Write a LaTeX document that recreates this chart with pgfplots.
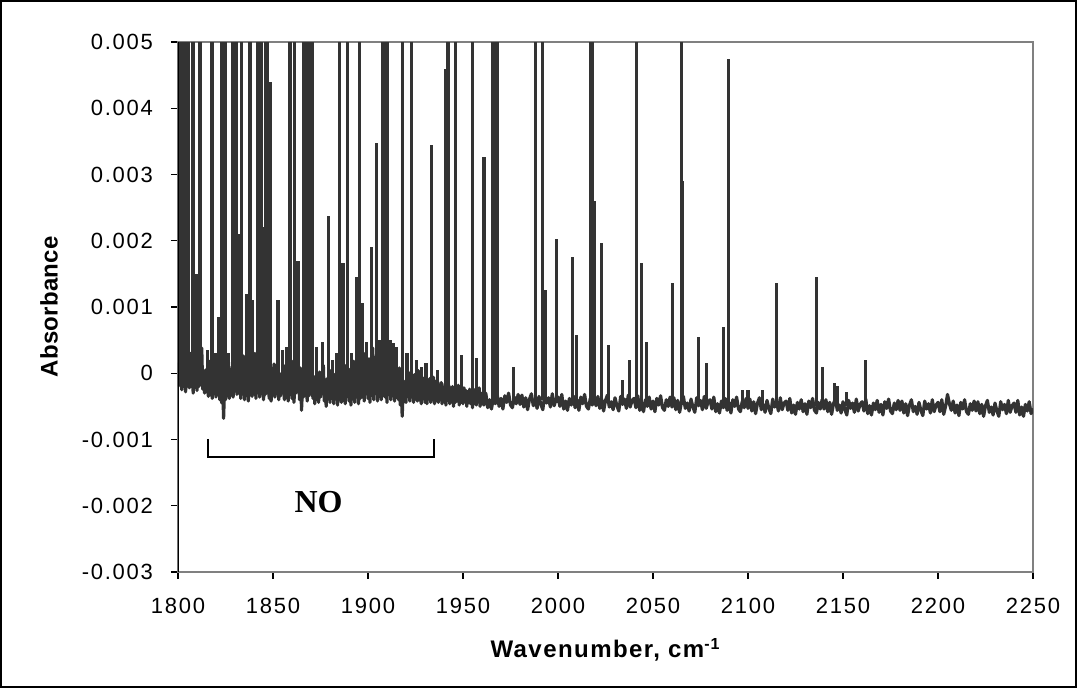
\documentclass[border=0pt]{standalone}
\usepackage{fontspec}
\setmainfont{Liberation Sans}
\newfontfamily\tickfont{Liberation Sans}[LetterSpace=8]
\newfontfamily\labfont{Liberation Sans}[LetterSpace=6]
\newfontfamily\ylabfont{Liberation Sans}[LetterSpace=1]
\newfontfamily\nofont{Liberation Serif}
\usepackage{pgfplots}
\pgfplotsset{compat=1.18}
\definecolor{spec}{HTML}{333333}
\definecolor{framegray}{HTML}{808080}
\begin{document}
\begin{tikzpicture}
\begin{axis}[
  at={(89pt,58pt)}, anchor=south west,
  scale only axis, width=427.5pt, height=265pt,
  xmin=1800, xmax=2250, ymin=-0.003, ymax=0.005,
  xtick={1800,1850,1900,1950,2000,2050,2100,2150,2200,2250},
  xticklabels={1800,1850,1900,1950,2000,2050,2100,2150,2200,2250},
  ytick={-0.003,-0.002,-0.001,0,0.001,0.002,0.003,0.004,0.005},
  yticklabels={-0.003,-0.002,-0.001,0,0.001,0.002,0.003,0.004,0.005},
  scaled y ticks=false, scaled x ticks=false,
  xtick pos=bottom, ytick pos=left, tick align=outside,
  major tick length=3.5pt,
  tick style={black, line width=0.6pt},
  axis line style={draw=framegray, line width=1.3pt},
  ticklabel style={font=\fontsize{11}{13}\tickfont},
  xticklabel style={yshift=-6pt},
  yticklabel style={xshift=-5.5pt},
  xlabel={\bfseries Wavenumber, cm\textsuperscript{-1}},
  ylabel={\bfseries Absorbance},
  xlabel style={font=\fontsize{12}{14}\labfont, at={(axis description cs:0.5,0)}, anchor=center, yshift=-39pt},
  ylabel style={font=\fontsize{12}{14}\ylabfont, at={(axis description cs:0,0.5)}, anchor=center, yshift=64.5pt},
  unbounded coords=jump,
  clip=true,
]
% noisy baseline
\addplot[spec, line width=1.6pt, line join=round] coordinates {
(1800,-0.0002)(1800.5,0.00015)(1801,-0.00012)(1801.5,-0.00008)(1802,-0.00025)(1802.5,0.00028)(1803,-0.00015)(1803.5,-0.00005)(1804,-0.00028)(1804.5,0.0001)
(1805,-0.0001)(1805.5,-0.00012)(1806,-0.00022)(1806.5,0.0003)(1807,-0.00018)(1807.5,-0.00004)(1808,-0.0003)(1808.5,0.00008)(1809,-0.00014)(1809.5,-0.0001)
(1810,-0.00026)(1810.5,0.00022)(1811,-0.0002)(1811.5,-0.00006)(1812,-0.00012)(1812.5,0.00038)(1813,-0.00024)(1813.5,-0.0001)(1814,-0.0003)(1814.5,0.00005)
(1815,-0.00028)(1815.5,-0.00015)(1816,-0.00035)(1816.5,0.00018)(1817,-0.00026)(1817.5,-0.00012)(1818,-0.00038)(1818.5,0.00002)(1819,-0.0003)(1819.5,-0.00018)
(1820,-0.00036)(1820.5,0.00022)(1821,-0.00028)(1821.5,-0.00014)(1822,-0.0004)(1822.5,0.00006)(1823,-0.00045)(1823.5,-0.0002)(1824,-0.00068)(1824.5,-0.00022)
(1825,-0.0004)(1825.5,-0.00016)(1826,-0.00032)(1826.5,0.0002)(1827,-0.00038)(1827.5,-0.00012)(1828,-0.0003)(1828.5,0.0001)(1829,-0.00036)(1829.5,-0.00014)
(1830,-0.00025)(1830.5,0.00024)(1831,-0.00032)(1831.5,-0.0001)(1832,-0.00022)(1832.5,0.00008)(1833,-0.00038)(1833.5,-0.00018)(1834,-0.00028)(1834.5,0.00026)
(1835,-0.0004)(1835.5,-0.00014)(1836,-0.0003)(1836.5,0.00004)(1837,-0.00042)(1837.5,-0.0002)(1838,-0.00026)(1838.5,0.00016)(1839,-0.00035)(1839.5,-0.00008)
(1840,-0.0003)(1840.5,0.0003)(1841,-0.00038)(1841.5,-0.00015)(1842,-0.00025)(1842.5,0.00012)(1843,-0.00036)(1843.5,-0.00012)(1844,-0.00028)(1844.5,0.00002)
(1845,-0.0004)(1845.5,-0.00018)(1846,-0.00032)(1846.5,0.0002)(1847,-0.00024)(1847.5,-0.0001)(1848,-0.00038)(1848.5,0.00006)(1849,-0.00042)(1849.5,-0.0002)
(1850,-0.0003)(1850.5,0.00014)(1851,-0.00036)(1851.5,-0.00016)(1852,-0.00026)(1852.5,0.00022)(1853,-0.0004)(1853.5,-0.00018)(1854,-0.00034)(1854.5,0)
(1855,-0.00028)(1855.5,-0.00014)(1856,-0.0004)(1856.5,0.00012)(1857,-0.00032)(1857.5,-0.00012)(1858,-0.00042)(1858.5,-0.00002)(1859,-0.0003)(1859.5,-0.00016)
(1860,-0.00038)(1860.5,0.00018)(1861,-0.00044)(1861.5,-0.00022)(1862,-0.0003)(1862.5,0.00006)(1863,-0.00026)(1863.5,-0.0001)(1864,-0.0004)(1864.5,0.00008)
(1865,-0.00056)(1865.5,-0.00024)(1866,-0.00036)(1866.5,0.00004)(1867,-0.0003)(1867.5,-0.00014)(1868,-0.00042)(1868.5,0.00014)(1869,-0.00034)(1869.5,-0.00018)
(1870,-0.00028)(1870.5,0.0001)(1871,-0.00038)(1871.5,-0.0002)(1872,-0.00046)(1872.5,-0.00004)(1873,-0.00034)(1873.5,-0.00022)(1874,-0.00044)(1874.5,0.00002)
(1875,-0.00036)(1875.5,-0.00018)(1876,-0.0003)(1876.5,0.00012)(1877,-0.00042)(1877.5,-0.00024)(1878,-0.0005)(1878.5,-0.00008)(1879,-0.00038)(1879.5,-0.0002)
(1880,-0.00044)(1880.5,0.00004)(1881,-0.00034)(1881.5,-0.00018)(1882,-0.00046)(1882.5,-0.00002)(1883,-0.00038)(1883.5,-0.00022)(1884,-0.00048)(1884.5,0.00008)
(1885,-0.00036)(1885.5,-0.00016)(1886,-0.00044)(1886.5,-0.00004)(1887,-0.00034)(1887.5,-0.0002)(1888,-0.00046)(1888.5,0.00012)(1889,-0.0003)(1889.5,-0.00014)
(1890,-0.00042)(1890.5,0.00006)(1891,-0.00048)(1891.5,-0.00022)(1892,-0.00036)(1892.5,0.00018)(1893,-0.00044)(1893.5,-0.00016)(1894,-0.00032)(1894.5,0.0001)
(1895,-0.00046)(1895.5,-0.0002)(1896,-0.00038)(1896.5,0.0002)(1897,-0.0003)(1897.5,-0.0001)(1898,-0.00042)(1898.5,0.0003)(1899,-0.00028)(1899.5,-0.00008)
(1900,-0.00038)(1900.5,0.00022)(1901,-0.00044)(1901.5,-0.00012)(1902,-0.00032)(1902.5,0.00038)(1903,-0.0004)(1903.5,-0.00006)(1904,-0.0003)(1904.5,0.00028)
(1905,-0.00042)(1905.5,-0.00014)(1906,-0.00034)(1906.5,0.00045)(1907,-0.0004)(1907.5,-0.00004)(1908,-0.0003)(1908.5,0.00035)(1909,-0.00036)(1909.5,-0.00012)
(1910,-0.00044)(1910.5,0.00026)(1911,-0.00032)(1911.5,-0.00002)(1912,-0.0004)(1912.5,0.00042)(1913,-0.00034)(1913.5,-0.0001)(1914,-0.00042)(1914.5,0.0002)
(1915,-0.0003)(1915.5,-0.00014)(1916,-0.0004)(1916.5,0.00008)(1917,-0.00048)(1917.5,-0.00024)(1918,-0.00065)(1918.5,-0.00026)(1919,-0.00038)(1919.5,-0.00012)
(1920,-0.00044)(1920.5,0.0001)(1921,-0.00034)(1921.5,-0.0002)(1922,-0.00042)(1922.5,0.00002)(1923,-0.00036)(1923.5,-0.00022)(1924,-0.00044)(1924.5,-0.00002)
(1925,-0.00038)(1925.5,-0.00024)(1926,-0.00042)(1926.5,0.00004)(1927,-0.0004)(1927.5,-0.00026)(1928,-0.00046)(1928.5,-0.00006)(1929,-0.00038)(1929.5,-0.00024)
(1930,-0.00044)(1930.5,-0.00002)(1931,-0.00046)(1931.5,-0.00028)(1932,-0.00038)(1932.5,-0.00008)(1933,-0.00044)(1933.5,-0.00026)(1934,-0.0004)(1934.5,-0.00006)
(1935,-0.00046)(1935.5,-0.00028)(1936,-0.0004)(1936.5,-0.0001)(1937,-0.00044)(1937.5,-0.0003)(1938,-0.0004)(1938.5,-0.00014)(1939,-0.00046)(1939.5,-0.0003)
(1940,-0.00042)(1940.5,-0.00016)(1941,-0.00048)(1941.5,-0.00024)(1942,-0.0004)(1942.5,-0.00018)(1943,-0.00046)(1943.5,-0.00022)(1944,-0.00042)(1944.5,-0.0002)
(1945,-0.0005)(1945.5,-0.00026)(1946,-0.00044)(1946.5,-0.00022)(1947,-0.0004)(1947.5,-0.00018)(1948,-0.00048)(1948.5,-0.00026)(1949,-0.00044)(1949.5,-0.00024)
(1950,-0.00046)(1950.5,-0.00022)(1951,-0.00042)(1951.5,-0.00026)(1952,-0.0005)(1952.5,-0.00028)(1953,-0.00044)(1953.5,-0.00024)(1954,-0.00046)(1954.5,-0.00026)
(1955,-0.00052)(1955.5,-0.0003)(1956,-0.00044)(1956.5,-0.00024)(1957,-0.00048)(1957.5,-0.00028)(1958,-0.00042)(1958.5,-0.00022)(1959,-0.0005)(1959.5,-0.0003)
(1960,-0.00038)(1961,-0.00048)(1962,-0.0003)(1963,-0.00052)(1964,-0.0004)(1965,-0.00054)(1966,-0.00036)(1967,-0.00046)(1968,-0.00032)(1969,-0.0005)
(1970,-0.00038)(1971,-0.00054)(1972,-0.00034)(1973,-0.00044)(1974,-0.0003)(1975,-0.00048)(1976,-0.00052)(1977,-0.00036)(1978,-0.00046)(1979,-0.00032)
(1980,-0.00047)(1981,-0.00033)(1982,-0.00051)(1983,-0.00037)(1984,-0.00055)(1985,-0.00039)(1986,-0.00031)(1987,-0.00049)(1988,-0.00041)(1989,-0.00053)
(1990,-0.00035)(1991,-0.00047)(1992,-0.00055)(1993,-0.00033)(1994,-0.00045)(1995,-0.00037)(1996,-0.00051)(1997,-0.00031)(1998,-0.00049)(1999,-0.00039)
(2000,-0.00036)(2001,-0.0005)(2002,-0.00032)(2003,-0.00054)(2004,-0.00042)(2005,-0.00056)(2006,-0.00038)(2007,-0.00048)(2008,-0.00034)(2009,-0.00052)
(2010,-0.0004)(2011,-0.00056)(2012,-0.00036)(2013,-0.00046)(2014,-0.00032)(2015,-0.0005)(2016,-0.00054)(2017,-0.00038)(2018,-0.00048)(2019,-0.00034)
(2020,-0.00049)(2021,-0.00035)(2022,-0.00053)(2023,-0.00039)(2024,-0.00057)(2025,-0.00041)(2026,-0.00033)(2027,-0.00051)(2028,-0.00043)(2029,-0.00055)
(2030,-0.00037)(2031,-0.00049)(2032,-0.00057)(2033,-0.00035)(2034,-0.00047)(2035,-0.00039)(2036,-0.00053)(2037,-0.00033)(2038,-0.00051)(2039,-0.00041)
(2040,-0.00038)(2041,-0.00052)(2042,-0.00034)(2043,-0.00056)(2044,-0.00044)(2045,-0.00058)(2046,-0.0004)(2047,-0.0005)(2048,-0.00036)(2049,-0.00054)
(2050,-0.00042)(2051,-0.00058)(2052,-0.00038)(2053,-0.00048)(2054,-0.00034)(2055,-0.00052)(2056,-0.00056)(2057,-0.0004)(2058,-0.0005)(2059,-0.00036)
(2060,-0.00051)(2061,-0.00037)(2062,-0.00055)(2063,-0.00041)(2064,-0.00059)(2065,-0.00043)(2066,-0.00035)(2067,-0.00053)(2068,-0.00045)(2069,-0.00057)
(2070,-0.00039)(2071,-0.00051)(2072,-0.00059)(2073,-0.00037)(2074,-0.00049)(2075,-0.00041)(2076,-0.00055)(2077,-0.00035)(2078,-0.00053)(2079,-0.00043)
(2080,-0.0004)(2081,-0.00054)(2082,-0.00036)(2083,-0.00058)(2084,-0.00046)(2085,-0.0006)(2086,-0.00042)(2087,-0.00052)(2088,-0.00038)(2089,-0.00056)
(2090,-0.00044)(2091,-0.0006)(2092,-0.0004)(2093,-0.0005)(2094,-0.00036)(2095,-0.00054)(2096,-0.00058)(2097,-0.00042)(2098,-0.00052)(2099,-0.00038)
(2100,-0.00053)(2101,-0.00039)(2102,-0.00057)(2103,-0.00043)(2104,-0.00061)(2105,-0.00045)(2106,-0.00037)(2107,-0.00055)(2108,-0.00047)(2109,-0.00059)
(2110,-0.00041)(2111,-0.00053)(2112,-0.00061)(2113,-0.00039)(2114,-0.00051)(2115,-0.00043)(2116,-0.00057)(2117,-0.00037)(2118,-0.00055)(2119,-0.00045)
(2120,-0.00042)(2121,-0.00056)(2122,-0.00038)(2123,-0.0006)(2124,-0.00048)(2125,-0.00062)(2126,-0.00044)(2127,-0.00054)(2128,-0.0004)(2129,-0.00058)
(2130,-0.00046)(2131,-0.00062)(2132,-0.00042)(2133,-0.00052)(2134,-0.00038)(2135,-0.00056)(2136,-0.0006)(2137,-0.00044)(2138,-0.00054)(2139,-0.0004)
(2140,-0.00054)(2141,-0.0004)(2142,-0.00058)(2143,-0.00044)(2144,-0.00062)(2145,-0.00046)(2146,-0.00038)(2147,-0.00056)(2148,-0.00048)(2149,-0.0006)
(2150,-0.00043)(2151,-0.00055)(2152,-0.00063)(2153,-0.00041)(2154,-0.00053)(2155,-0.00045)(2156,-0.00059)(2157,-0.00039)(2158,-0.00057)(2159,-0.00047)
(2160,-0.00043)(2161,-0.00057)(2162,-0.00039)(2163,-0.00061)(2164,-0.00049)(2165,-0.00063)(2166,-0.00045)(2167,-0.00055)(2168,-0.00041)(2169,-0.00059)
(2170,-0.00047)(2171,-0.00063)(2172,-0.00043)(2173,-0.00053)(2174,-0.00039)(2175,-0.00057)(2176,-0.00061)(2177,-0.00045)(2178,-0.00055)(2179,-0.00041)
(2180,-0.00056)(2181,-0.00042)(2182,-0.0006)(2183,-0.00046)(2184,-0.00064)(2185,-0.00048)(2186,-0.0004)(2187,-0.00058)(2188,-0.0005)(2189,-0.00062)
(2190,-0.00044)(2191,-0.00056)(2192,-0.00064)(2193,-0.00042)(2194,-0.00054)(2195,-0.00046)(2196,-0.0006)(2197,-0.0004)(2198,-0.00058)(2199,-0.00048)
(2200,-0.00044)(2201,-0.00058)(2202,-0.0004)(2203,-0.00062)(2204,-0.0005)(2205,-0.00032)(2206,-0.00046)(2207,-0.00056)(2208,-0.00042)(2209,-0.0006)
(2210,-0.00048)(2211,-0.00064)(2212,-0.00044)(2213,-0.00054)(2214,-0.0004)(2215,-0.00058)(2216,-0.00062)(2217,-0.00046)(2218,-0.00056)(2219,-0.00042)
(2220,-0.00057)(2221,-0.00043)(2222,-0.00061)(2223,-0.00047)(2224,-0.00065)(2225,-0.00049)(2226,-0.00041)(2227,-0.00059)(2228,-0.00051)(2229,-0.00063)
(2230,-0.00045)(2231,-0.00057)(2232,-0.00065)(2233,-0.00043)(2234,-0.00055)(2235,-0.00047)(2236,-0.00061)(2237,-0.00041)(2238,-0.00059)(2239,-0.00049)
(2240,-0.00045)(2241,-0.00059)(2242,-0.00041)(2243,-0.00063)(2244,-0.00051)(2245,-0.00065)(2246,-0.00047)(2247,-0.00057)(2248,-0.00043)(2249,-0.00061)
(2250,-0.00053)
};
% absorption lines
\addplot[spec, line width=1.6pt] coordinates {
(1800.6,-0.0002)(1800.6,0.01)(1800.6,nan)
(1802.0,-0.0001)(1802.0,0.01)(1802.0,nan)
(1803.5,-0.0002)(1803.5,0.01)(1803.5,nan)
(1805.3,-0.0001)(1805.3,0.01)(1805.3,nan)
(1807.9,-0.0002)(1807.9,0.01)(1807.9,nan)
(1809.5,-0.0002)(1809.5,0.0015)(1809.5,nan)
(1811.6,-0.0002)(1811.6,0.01)(1811.6,nan)
(1815.5,-0.0002)(1815.5,0.00035)(1815.5,nan)
(1817.9,-0.0002)(1817.9,0.01)(1817.9,nan)
(1819.8,-0.0003)(1819.8,0.0003)(1819.8,nan)
(1821.5,-0.0002)(1821.5,0.00085)(1821.5,nan)
(1823.1,-0.0003)(1823.1,0.01)(1823.1,nan)
(1824.7,-0.0003)(1824.7,0.01)(1824.7,nan)
(1826.5,-0.0002)(1826.5,0.0003)(1826.5,nan)
(1828.9,-0.0002)(1828.9,0.01)(1828.9,nan)
(1831.0,-0.0002)(1831.0,0.01)(1831.0,nan)
(1832.4,-0.0002)(1832.4,0.0021)(1832.4,nan)
(1833.6,-0.0002)(1833.6,0.01)(1833.6,nan)
(1836.0,-0.0002)(1836.0,0.0012)(1836.0,nan)
(1837.9,-0.0003)(1837.9,0.01)(1837.9,nan)
(1839.0,-0.0002)(1839.0,0.0011)(1839.0,nan)
(1842.0,-0.0002)(1842.0,0.01)(1842.0,nan)
(1843.0,-0.0002)(1843.0,0.01)(1843.0,nan)
(1844.0,-0.0002)(1844.0,0.01)(1844.0,nan)
(1845.2,-0.0002)(1845.2,0.0022)(1845.2,nan)
(1846.2,-0.0002)(1846.2,0.01)(1846.2,nan)
(1847.2,-0.0002)(1847.2,0.01)(1847.2,nan)
(1848.5,-0.0002)(1848.5,0.0044)(1848.5,nan)
(1852.6,-0.0003)(1852.6,0.0011)(1852.6,nan)
(1855.0,-0.0003)(1855.0,0.00035)(1855.0,nan)
(1857.0,-0.0003)(1857.0,0.0004)(1857.0,nan)
(1858.9,-0.0003)(1858.9,0.01)(1858.9,nan)
(1861.5,-0.0003)(1861.5,0.01)(1861.5,nan)
(1863.2,-0.0003)(1863.2,0.0017)(1863.2,nan)
(1865.9,-0.0003)(1865.9,0.01)(1865.9,nan)
(1867.0,-0.0003)(1867.0,0.01)(1867.0,nan)
(1868.2,-0.0003)(1868.2,0.01)(1868.2,nan)
(1869.3,-0.0003)(1869.3,0.01)(1869.3,nan)
(1870.6,-0.0003)(1870.6,0.01)(1870.6,nan)
(1873.0,-0.0003)(1873.0,0.0004)(1873.0,nan)
(1876.0,-0.0003)(1876.0,0.00047)(1876.0,nan)
(1879.3,-0.0003)(1879.3,0.00238)(1879.3,nan)
(1881.5,-0.0003)(1881.5,0.0002)(1881.5,nan)
(1883.5,-0.0003)(1883.5,0.0003)(1883.5,nan)
(1885.2,-0.0003)(1885.2,0.01)(1885.2,nan)
(1886.8,-0.0003)(1886.8,0.00166)(1886.8,nan)
(1889.4,-0.0003)(1889.4,0.01)(1889.4,nan)
(1891.5,-0.0003)(1891.5,0.0003)(1891.5,nan)
(1893.8,-0.0003)(1893.8,0.00145)(1893.8,nan)
(1895.7,-0.0003)(1895.7,0.01)(1895.7,nan)
(1897.3,-0.0003)(1897.3,0.00106)(1897.3,nan)
(1899.3,-0.0003)(1899.3,0.00047)(1899.3,nan)
(1902.0,-0.0003)(1902.0,0.0019)(1902.0,nan)
(1904.6,-0.0003)(1904.6,0.00347)(1904.6,nan)
(1906.0,-0.0003)(1906.0,0.0005)(1906.0,nan)
(1907.8,-0.0003)(1907.8,0.01)(1907.8,nan)
(1909.1,-0.0003)(1909.1,0.01)(1909.1,nan)
(1910.4,-0.0003)(1910.4,0.01)(1910.4,nan)
(1911.8,-0.0003)(1911.8,0.0005)(1911.8,nan)
(1913.3,-0.0003)(1913.3,0.00045)(1913.3,nan)
(1915.0,-0.0003)(1915.0,0.0004)(1915.0,nan)
(1918.3,-0.0004)(1918.3,0.01)(1918.3,nan)
(1920.5,-0.0003)(1920.5,0.0003)(1920.5,nan)
(1923.0,-0.0003)(1923.0,0.01)(1923.0,nan)
(1925.5,-0.0003)(1925.5,0.0002)(1925.5,nan)
(1928.0,-0.0004)(1928.0,0.0001)(1928.0,nan)
(1930.5,-0.0004)(1930.5,0.00015)(1930.5,nan)
(1933.5,-0.0004)(1933.5,0.00344)(1933.5,nan)
(1936.5,-0.0004)(1936.5,0.00005)(1936.5,nan)
(1940.8,-0.0004)(1940.8,0.0046)(1940.8,nan)
(1942.1,-0.0004)(1942.1,0.01)(1942.1,nan)
(1946.2,-0.0004)(1946.2,0.01)(1946.2,nan)
(1949.0,-0.0004)(1949.0,0.00027)(1949.0,nan)
(1954.8,-0.0004)(1954.8,0.01)(1954.8,nan)
(1957.0,-0.0004)(1957.0,0.00023)(1957.0,nan)
(1961.0,-0.0004)(1961.0,0.00326)(1961.0,nan)
(1965.8,-0.0004)(1965.8,0.01)(1965.8,nan)
(1967.2,-0.0004)(1967.2,0.01)(1967.2,nan)
(1968.2,-0.0004)(1968.2,0.01)(1968.2,nan)
(1976.5,-0.0004)(1976.5,0.0001)(1976.5,nan)
(1988.2,-0.0004)(1988.2,0.01)(1988.2,nan)
(1991.9,-0.0004)(1991.9,0.01)(1991.9,nan)
(1993.5,-0.0004)(1993.5,0.00125)(1993.5,nan)
(1999.3,-0.00045)(1999.3,0.00203)(1999.3,nan)
(2007.7,-0.00045)(2007.7,0.00175)(2007.7,nan)
(2009.6,-0.00045)(2009.6,0.00057)(2009.6,nan)
(2017.0,-0.00045)(2017.0,0.01)(2017.0,nan)
(2018.0,-0.00045)(2018.0,0.01)(2018.0,nan)
(2019.2,-0.00045)(2019.2,0.0026)(2019.2,nan)
(2023.0,-0.00045)(2023.0,0.00196)(2023.0,nan)
(2026.6,-0.00045)(2026.6,0.00042)(2026.6,nan)
(2034.0,-0.00048)(2034.0,-0.0001)(2034.0,nan)
(2037.6,-0.00048)(2037.6,0.0002)(2037.6,nan)
(2041.2,-0.00048)(2041.2,0.01)(2041.2,nan)
(2044.0,-0.00048)(2044.0,0.00166)(2044.0,nan)
(2046.6,-0.00048)(2046.6,0.00047)(2046.6,nan)
(2060.3,-0.00048)(2060.3,0.00136)(2060.3,nan)
(2064.8,-0.00048)(2064.8,0.01)(2064.8,nan)
(2065.6,-0.00048)(2065.6,0.0029)(2065.6,nan)
(2074.0,-0.0005)(2074.0,0.00054)(2074.0,nan)
(2078.0,-0.0005)(2078.0,0.00015)(2078.0,nan)
(2087.0,-0.0005)(2087.0,0.0007)(2087.0,nan)
(2089.7,-0.0005)(2089.7,0.00474)(2089.7,nan)
(2097.0,-0.0005)(2097.0,-0.00026)(2097.0,nan)
(2100.0,-0.0005)(2100.0,-0.00026)(2100.0,nan)
(2107.5,-0.0005)(2107.5,-0.00026)(2107.5,nan)
(2115.0,-0.0005)(2115.0,0.00136)(2115.0,nan)
(2136.0,-0.0005)(2136.0,0.00145)(2136.0,nan)
(2139.0,-0.0005)(2139.0,0.0001)(2139.0,nan)
(2145.4,-0.0005)(2145.4,-0.00015)(2145.4,nan)
(2147.0,-0.0005)(2147.0,-0.0002)(2147.0,nan)
(2152.0,-0.0005)(2152.0,-0.00028)(2152.0,nan)
(2161.7,-0.0005)(2161.7,0.0002)(2161.7,nan)
};
% NO bracket
\draw[black, line width=1pt] (axis cs:1815.6,-0.00099) -- (axis cs:1815.6,-0.00127) -- (axis cs:1934.8,-0.00127) -- (axis cs:1934.8,-0.00099);
\node[font=\fontsize{16}{18}\nofont\bfseries] at (axis cs:1874,-0.00194) {NO};
% black left axis line
\draw[black, line width=1pt] (rel axis cs:0,0) -- (rel axis cs:0,1);
\end{axis}
\draw[black, line width=0.75pt] (0.5pt,0.5pt) rectangle (538pt,343.5pt);
\pgfresetboundingbox
\useasboundingbox (0,0) rectangle (538.5pt,344pt);
\end{tikzpicture}
\end{document}
